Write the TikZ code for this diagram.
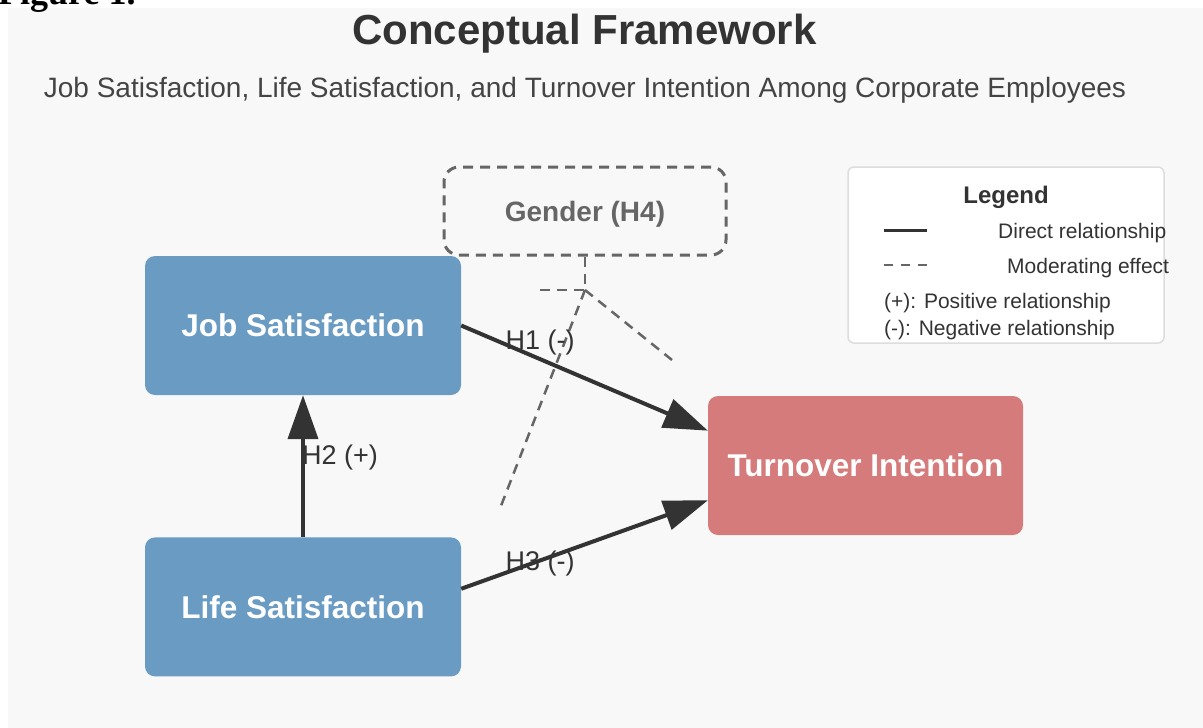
\documentclass[tikz,border=0pt]{standalone}
\usepackage{fontspec}
\setmainfont{Liberation Sans}
\newfontfamily\figserif{Liberation Serif}
\usepackage{xcolor}
\usetikzlibrary{arrows.meta, positioning, calc}
\definecolor{pagebg}{HTML}{F8F8F8}
\definecolor{ink}{HTML}{333333}
\definecolor{subink}{HTML}{444444}
\definecolor{modgray}{HTML}{666666}
\definecolor{varblue}{HTML}{6A9BC3}
\definecolor{varred}{HTML}{D67B7B}
\definecolor{legframe}{HTML}{DDDDDD}

\begin{document}
\begin{tikzpicture}[x=1pt, y=-1pt,
    var/.style={rounded corners=10pt, minimum width=316pt, minimum height=139pt, inner sep=0pt, text=white, font=\fontsize{31.5}{37}\selectfont\bfseries},
    hyparrow/.style={ink, line width=4pt, -{Triangle[length=44pt,width=30pt]}},
    modline/.style={modgray, line width=2.5pt, dash pattern=on 10pt off 7pt},
    hyp/.style={text=ink, font=\fontsize{27}{32}\selectfont},
    legtext/.style={text=ink, inner sep=0pt, anchor=base west, font=\fontsize{21}{25}\selectfont}]
    \useasboundingbox (0,0) rectangle (1203,728);
    \clip (0,0) rectangle (1203,728);
    \fill[pagebg] (8,8) rectangle (1203,728);
    \node[anchor=base west, inner sep=0pt, font=\figserif\bfseries\fontsize{36}{40}\selectfont] (fig) at (-2,5) {Figure 1.};

    \node[anchor=base, text=ink, font=\fontsize{42}{50}\selectfont\bfseries] (title) at (584.5,45) {Conceptual Framework};
    \node[anchor=base, text=subink, font=\fontsize{28}{34}\selectfont] (subtitle) at (585,97) {Job Satisfaction, Life Satisfaction, and Turnover Intention Among Corporate Employees};

    \node[var, fill=varblue] (job) at (303,325.5) {Job Satisfaction};
    \node[var, fill=varblue, below=142pt of job] (life) {Life Satisfaction};
    \node[var, fill=varred, minimum width=315pt] (turnover) at (865.5,465.5) {Turnover Intention};
    \node[draw=modgray, line width=3pt, dash pattern=on 10pt off 7pt, rounded corners=15pt, minimum width=282pt, minimum height=88pt, text depth=0pt, text=modgray, font=\fontsize{28}{34}\selectfont\bfseries] (gender) at (585,211) {Gender (H4)};

    \coordinate (modjoin) at (585,290);
    \coordinate (modstub) at (540,290);
    \coordinate (modlife) at (499,511);
    \coordinate (modturn) at (672,360);
    \draw[modline] (gender.south) -- (modjoin);
    \draw[modline] (modstub) -- (modjoin);
    \draw[modline] (modjoin) -- (modlife);
    \draw[modline] (modjoin) -- (modturn);

    \draw[hyparrow] (job.east) -- ($(turnover.north west)!0.25!(turnover.south west)$) node[hyp, pos=0.32, yshift=17pt] {H1 (-)};
    \draw[hyparrow] (life.north) -- (job.south) node[hyp, pos=0.56, xshift=37pt] {H2 (+)};
    \draw[hyparrow] ($(life.north east)!0.37!(life.south east)$) -- ($(turnover.north west)!0.75!(turnover.south west)$) node[hyp, pos=0.32, yshift=-3pt] {H3 (-)};

    \node[draw=legframe, fill=white, line width=1.5pt, rounded corners=6pt, minimum width=316pt, minimum height=176pt] (legend) at (1006,255) {};
    \node[anchor=base, text=ink, font=\fontsize{24}{28}\selectfont\bfseries] (legtitle) at (1006,203) {Legend};
    \coordinate (solidA) at (884,230);
    \coordinate (solidB) at (927,230);
    \coordinate (dashA) at (884,265);
    \coordinate (dashB) at (927,265);
    \draw[ink, line width=3pt] (solidA) -- (solidB);
    \draw[modgray, line width=2pt, dash pattern=on 9pt off 8pt] (dashA) -- (dashB);
    \node[legtext] (legsolid) at (998,238) {Direct relationship};
    \node[legtext] (legdash) at (1007,273) {Moderating effect};
    \node[legtext] (legpos) at (884,308) {(+): Positive relationship};
    \node[legtext] (legneg) at (884,335) {(-): Negative relationship};
\end{tikzpicture}
\end{document}
